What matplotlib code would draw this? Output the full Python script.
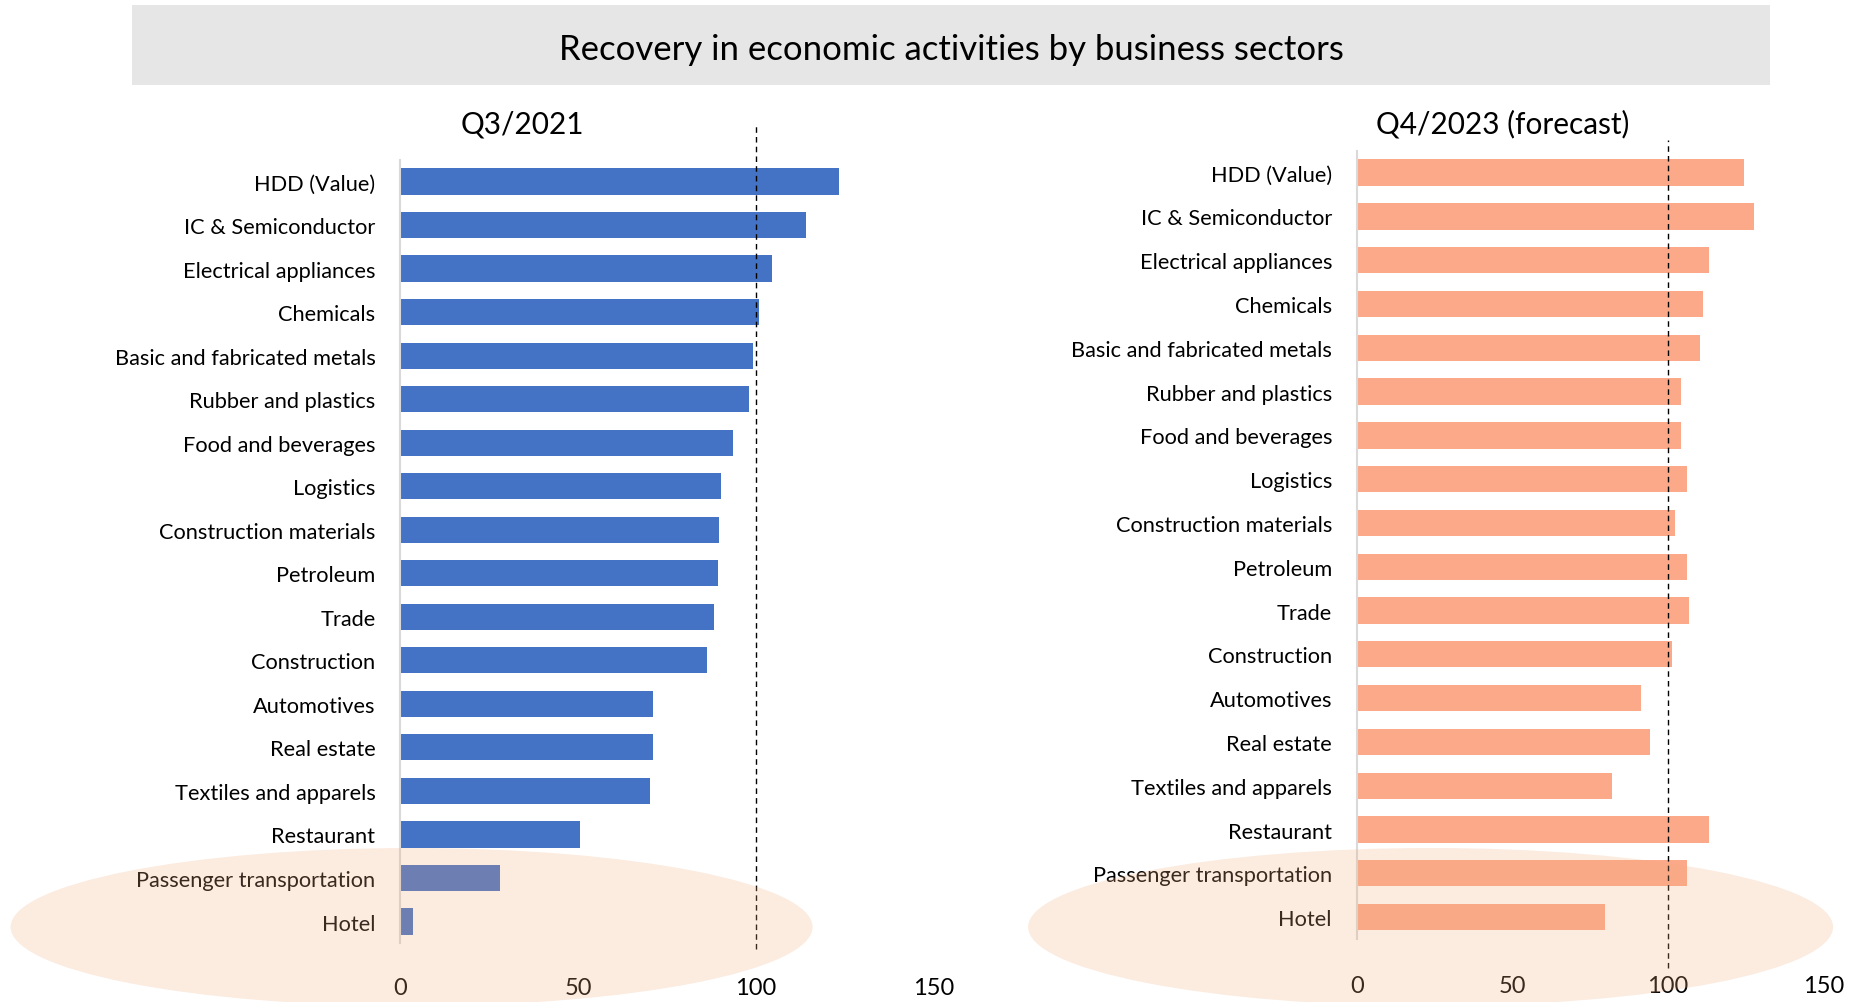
import matplotlib
matplotlib.use("Agg")

import matplotlib.pyplot as plt
from matplotlib.patches import Ellipse, Rectangle

# ----------------------------
# Data
# ----------------------------

sectors = [
    "HDD (Value)", "IC & Semiconductor", "Electrical appliances", "Chemicals",
    "Basic and fabricated metals", "Rubber and plastics", "Food and beverages",
    "Logistics", "Construction materials", "Petroleum", "Trade", "Construction",
    "Automotives", "Real estate", "Textiles and apparels", "Restaurant",
    "Passenger transportation", "Hotel",
]

q3_2021 = [123.6, 114.2, 104.5, 101.0, 99.3, 98.2, 93.7, 90.3, 89.7, 89.3,
           88.2, 86.2, 71.0, 71.0, 70.4, 50.6, 28.0, 3.5]

q4_2023 = [124.4, 127.7, 113.4, 111.4, 110.3, 104.4, 104.4, 106.3, 102.3, 106.3,
           106.7, 101.2, 91.3, 94.3, 82.1, 113.4, 106.3, 79.8]

x_ticks = [0, 50, 100, 150]
baseline = 100

plt.rcParams["font.family"] = ["Lato", "DejaVu Sans"]

W, H = 1857, 1003
fig = plt.figure(figsize=(W / 100, H / 100), dpi=100)


def fx(px):
    return px / W


def fy(py):
    return 1 - py / H


# ----------------------------
# Title banner
# ----------------------------

fig.add_artist(Rectangle((fx(132), fy(86)), fx(1770) - fx(132), fy(6) - fy(86),
                         transform=fig.transFigure, facecolor="#e6e6e6",
                         edgecolor="none", zorder=0))
fig.text(fx(951), fy(50), "Recovery in economic activities by business sectors",
         ha="center", va="center", fontsize=25, color="black")


# ----------------------------
# Panels
# ----------------------------

def panel(box, values, color, title, title_x, label_pad, dash_y):
    left, top, right, bottom = box
    ax = fig.add_axes([fx(left), fy(bottom), fx(right) - fx(left), fy(top) - fy(bottom)])
    y = list(range(len(sectors)))
    ax.barh(y, values, height=0.6, color=color, zorder=2)
    ax.set_ylim(len(sectors) - 0.5, -0.5)
    ax.set_xlim(0, 150)
    ax.set_yticks(y)
    ax.set_yticklabels(sectors, fontsize=15.7)
    ax.set_xticks(x_ticks)
    ax.set_xticklabels([str(t) for t in x_ticks], fontsize=17)
    ax.tick_params(axis="y", length=0, pad=18)
    ax.tick_params(axis="x", length=0, pad=label_pad)
    for side in ("top", "right", "bottom"):
        ax.spines[side].set_visible(False)
    ax.spines["left"].set_color("#d9d9d9")
    ax.spines["left"].set_linewidth(1.5)
    ax.set_facecolor("none")

    # dashed reference line at 100, running past the plot area
    h = bottom - top
    ax.axvline(baseline, ymin=(bottom - dash_y[1]) / h, ymax=(bottom - dash_y[0]) / h,
               color="black", lw=1, linestyle=(0, (4, 3)), clip_on=False, zorder=3)

    fig.text(fx(title_x), fy(124), title, ha="center", va="center", fontsize=21.4)
    return ax


panel((400.4, 160.7, 933.2, 944.3), q3_2021, "#4472c4", "Q3/2021", 522, 24, (125, 950))
panel((1357, 151.7, 1823.2, 940), q4_2023, "#fca98a", "Q4/2023 (forecast)", 1503, 26, (141, 969))

# highlight over the hardest-hit sectors
for cx, w in [(411.6, 802), (1430.6, 805)]:
    fig.add_artist(Ellipse((fx(cx), fy(928)), fx(w), 158 / H,
                           transform=fig.transFigure, facecolor="#f3ac7c",
                           edgecolor="none", alpha=0.24, zorder=10))

fig.savefig("out.png", dpi=100)
plt.close()
